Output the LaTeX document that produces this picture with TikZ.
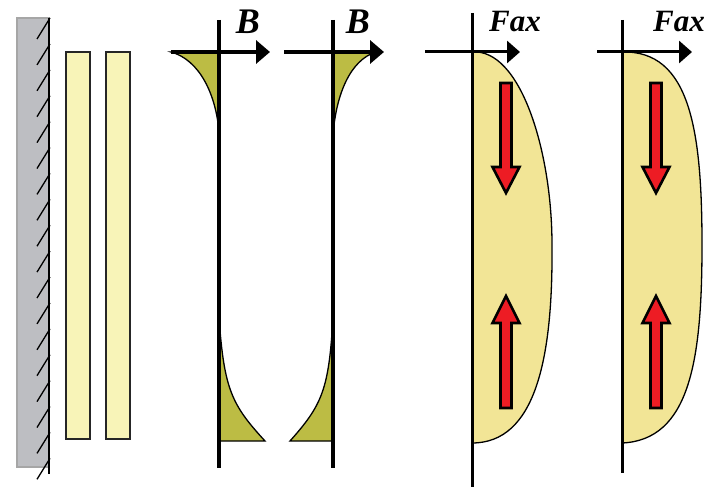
\documentclass[tikz,border=0pt]{standalone}
\usepackage{fontspec}
\setmainfont{Liberation Serif}
\usetikzlibrary{arrows.meta}
\definecolor{wallgray}{HTML}{BDBEC2}
\definecolor{wallline}{HTML}{A6A6A6}
\definecolor{platefill}{HTML}{F8F4B8}
\definecolor{olive}{HTML}{BCBC44}
\definecolor{faxfill}{HTML}{F2E596}
\definecolor{forcered}{HTML}{ED1C24}
\begin{document}
\begin{tikzpicture}[x=1pt, y=-1pt,
	axis/.style={line width=3.5pt},
	faxaxis/.style={line width=3pt},
	axisarrow/.style={line width=3.5pt, -{Triangle[length=14pt,width=23pt]}},
	faxarrow/.style={line width=3pt, -{Triangle[length=13pt,width=22pt]}},
	field/.style={fill=olive, draw=black, line width=1.3pt},
	force/.style={fill=faxfill, draw=black, line width=1.3pt},
	plate/.style={fill=platefill, draw=black!85, line width=1.6pt},
	label/.style={inner sep=0pt, font=\bfseries\itshape}]
	\useasboundingbox (0,0) rectangle (712,487);

	% wall and plates
	\filldraw[fill=wallgray, draw=wallline, line width=1.2pt] (17,18) rectangle (49,467);
	\draw[line width=1.8pt] (49,18) -- (49,474);
	\foreach \i in {0,...,17}
		\draw[line width=1.3pt] (37,{18+25.9*\i+21}) -- (50,{18+25.9*\i});
	\draw[plate] (66,52) rectangle (90,439);
	\draw[plate] (106,52) rectangle (130,439);

	% field B, first profile
	\coordinate (o1) at (219,52);
	\draw[field] (171,52) .. controls (200,60) and (216,95) .. (219,132) -- (o1) -- cycle;
	\draw[field] (219,317) .. controls (224,390) and (232,405) .. (265,441) -- (219,441) -- cycle;
	\draw[axis] (219,20) -- (219,468);
	\draw[axisarrow] (171,52) -- (270,52);
	\node[label, font=\fontsize{36}{36}\selectfont\bfseries\itshape] (b1) at (248,22) {B};

	% field B, second profile
	\coordinate (o2) at (333,52);
	\draw[field] (o2) -- (376,52) .. controls (350,60) and (336,95) .. (333,135) -- cycle;
	\draw[field] (333,317) .. controls (329,390) and (322,405) .. (290,441) -- (333,441) -- cycle;
	\draw[axis] (333,20) -- (333,468);
	\draw[axisarrow] (284,52) -- (384,52);
	\node[label, font=\fontsize{36}{36}\selectfont\bfseries\itshape] (b2) at (358,22) {B};

	% axial force, first profile
	\coordinate (o3) at (472,52);
	\draw[force] (o3) .. controls (520,48) and (552,150) .. (552,245)
		.. controls (553,360) and (535,443) .. (472,443) -- cycle;
	\draw[faxaxis] (472,13) -- (472,487);
	\draw[faxarrow] (425,52) -- (520,52);
	\node[label, font=\fontsize{31}{31}\selectfont\bfseries\itshape] (fax1) at (515,22) {Fax};

	% axial force, second profile
	\coordinate (o4) at (622,52);
	\draw[force] (o4) .. controls (690,50) and (702,130) .. (702,245)
		.. controls (702,360) and (690,440) .. (622,443) -- cycle;
	\draw[faxaxis] (622,20) -- (622,473);
	\draw[faxarrow] (597,52) -- (692,52);
	\node[label, font=\fontsize{31}{31}\selectfont\bfseries\itshape] (fax2) at (679,22) {Fax};

	% red force arrows
	\foreach \cx in {506,656} {
		\filldraw[fill=forcered, draw=black, line width=2.6pt, line join=miter]
			(\cx-5.5,83) -- (\cx+5.5,83) -- (\cx+5.5,167) -- (\cx+13.5,167) -- (\cx,193)
			-- (\cx-13.5,167) -- (\cx-5.5,167) -- cycle;
		\filldraw[fill=forcered, draw=black, line width=2.6pt, line join=miter]
			(\cx-5.5,408) -- (\cx+5.5,408) -- (\cx+5.5,323) -- (\cx+13.5,323) -- (\cx,296)
			-- (\cx-13.5,323) -- (\cx-5.5,323) -- cycle;
	}
\end{tikzpicture}
\end{document}
